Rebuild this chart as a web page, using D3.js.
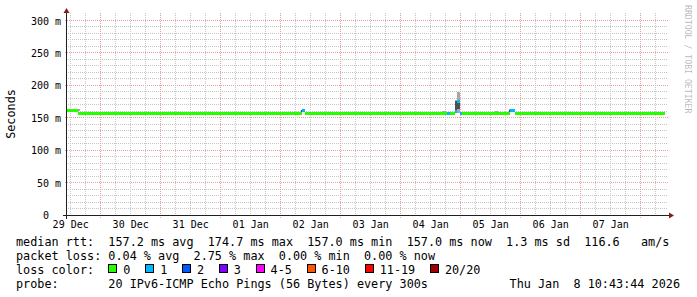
<!DOCTYPE html>
<html><head><meta charset="utf-8">
<script src="https://cdn.jsdelivr.net/npm/d3@7"></script>
<style>
html,body{margin:0;padding:0;background:#fff;}
svg{display:block;}
text{font-family:"DejaVu Sans Mono",monospace;white-space:pre;}
</style></head><body>
<svg id="chart" width="697" height="297"></svg>
<script>
// ---------- data ----------
const rangeStart = "2025-12-29T10:43:44Z";
const rangeEnd   = "2026-01-08T10:43:44Z";
const yMax = 308.5;
const yTicks = [0, 50, 100, 150, 200, 250, 300];
const yTickLabels = ["0\u00a0\u00a0", "50\u00a0m", "100\u00a0m", "150\u00a0m", "200\u00a0m", "250\u00a0m", "300\u00a0m"];
const xTickTimes = ["2025-12-29T12:00Z","2025-12-30T12:00Z","2025-12-31T12:00Z","2026-01-01T12:00Z","2026-01-02T12:00Z",
                    "2026-01-03T12:00Z","2026-01-04T12:00Z","2026-01-05T12:00Z","2026-01-06T12:00Z","2026-01-07T12:00Z"];
const xTickLabels = ["29 Dec","30 Dec","31 Dec","01 Jan","02 Jan","03 Jan","04 Jan","05 Jan","06 Jan","07 Jan"];

// median rtt (ms) step series: value holds from its time until the next time
const medianTimes = ["2025-12-29T10:44Z","2025-12-29T15:15Z","2026-01-02T08:36Z","2026-01-02T09:55Z",
                     "2026-01-04T18:36Z","2026-01-04T20:00Z","2026-01-04T21:50Z","2026-01-04T22:50Z",
                     "2026-01-04T23:55Z","2026-01-05T00:40Z","2026-01-05T19:55Z","2026-01-05T21:55Z",
                     "2026-01-08T09:55Z"];
const medianValues = [160.5, 157.0, 160.8, 157.0, 157.0, 157.0, 160.0, 174.7, 157.0, 157.0, 161.5, 157.0, null];
const medianLoss   = [0, 0, 1, 0, 1, 0, 1, 1, 1, 0, 1, 0, 0];

// smoke (ping spread, ms)
const smokeStart = ["2025-12-29T14:15Z","2026-01-02T08:10Z","2026-01-04T16:50Z","2026-01-04T21:50Z","2026-01-04T22:50Z","2026-01-05T13:50Z","2026-01-05T19:25Z"];
const smokeEnd   = ["2025-12-29T15:45Z","2026-01-02T08:36Z","2026-01-04T18:10Z","2026-01-04T22:50Z","2026-01-05T00:00Z","2026-01-05T15:10Z","2026-01-05T19:55Z"];
const smokeMin   = [160.0, 159.0, 157.0, 157.0, 157.0, 157.0, 158.0];
const smokeMax   = [163.5, 162.0, 160.0, 177.0, 190.0, 160.0, 163.0];
const smokeInLow = [160.0, 159.0, 157.0, 158.0, 163.0, 157.0, 159.0];
const smokeInHigh= [160.0, 162.0, 157.0, 176.5, 176.0, 157.0, 162.0];

const lossLabels = ["0","1","2","3","4-5","6-10","11-19","20/20"];
const lossColors = ["#26ff00","#00b8ff","#0059ff","#7e00ff","#ff00ff","#ff5500","#ff0000","#a00000"];

const rttStats  = ["157.2 ms avg","174.7 ms max","157.0 ms min","157.0 ms now","1.3 ms sd","116.6   am/s"];
const lossStats = ["0.04 % avg","2.75 % max","0.00 % min","0.00 % now"];
const probeText = "20 IPv6-ICMP Echo Pings (56 Bytes) every 300s";
const dateText  = "Thu Jan  8 10:43:44 2026";
const yLabel = "Seconds";
const watermark = "RRDTOOL / TOBI OETIKER";

// ---------- layout ----------
const X0 = 67, X1 = 667, Y0 = 215, Y1 = 15;
const svg = d3.select("#chart");
const x = d3.scaleUtc().domain([new Date(rangeStart), new Date(rangeEnd)]).range([X0, X1]);
const y = d3.scaleLinear().domain([0, yMax]).range([Y0, Y1]);
const px = v => Math.floor(v) + 0.5;

const minorCol = "#c6c6c6", majorCol = "#eaa0a0";
const grid = svg.append("g");
// horizontal grid
grid.selectAll("line.hmin").data(y.ticks(30).filter(v => v % 50 !== 0)).join("line")
  .attr("x1", X0 - 1).attr("x2", X1 + 1).attr("y1", d => px(y(d))).attr("y2", d => px(y(d)))
  .attr("stroke", minorCol).attr("stroke-dasharray", "1,1");
grid.selectAll("line.hmaj").data(yTicks.filter(v => v > 0)).join("line")
  .attr("x1", X0 - 2).attr("x2", X1 + 2).attr("y1", d => px(y(d))).attr("y2", d => px(y(d)))
  .attr("stroke", majorCol).attr("stroke-dasharray", "1,1");
// vertical grid
const t0 = new Date(rangeStart), t1 = new Date(rangeEnd);
grid.selectAll("line.vmin").data(d3.utcHour.every(6).range(t0, t1).filter(d => d.getUTCHours() !== 0)).join("line")
  .attr("x1", d => px(x(d))).attr("x2", d => px(x(d))).attr("y1", Y1 - 2).attr("y2", Y0 + 2)
  .attr("stroke", minorCol).attr("stroke-dasharray", "1,1");
grid.selectAll("line.vmaj").data(d3.utcDay.range(t0, t1)).join("line")
  .attr("x1", d => px(x(d))).attr("x2", d => px(x(d))).attr("y1", Y1 - 2).attr("y2", Y0 + 3)
  .attr("stroke", majorCol).attr("stroke-dasharray", "1,1");

// smoke
const smoke = smokeStart.map((s, i) => ({s: new Date(s), e: new Date(smokeEnd[i]), lo: smokeMin[i], hi: smokeMax[i], il: smokeInLow[i], ih: smokeInHigh[i]}));
const gs = svg.append("g").attr("shape-rendering", "crispEdges");
gs.selectAll("rect.outer").data(smoke).join("rect")
  .attr("x", d => x(d.s)).attr("width", d => x(d.e) - x(d.s))
  .attr("y", d => y(d.hi)).attr("height", d => y(d.lo) - y(d.hi)).attr("fill", "#a8a8a8");
gs.selectAll("rect.inner").data(smoke.filter(d => d.ih > d.il)).join("rect")
  .attr("x", d => x(d.s)).attr("width", d => x(d.e) - x(d.s))
  .attr("y", d => y(d.ih)).attr("height", d => y(d.il) - y(d.ih)).attr("fill", "#505050");

// median band coloured by loss
const lossIdx = l => l <= 3 ? l : l <= 5 ? 4 : l <= 10 ? 5 : l <= 19 ? 6 : 7;
const segs = medianTimes.slice(0, -1).map((t, i) => ({t0: new Date(t), t1: new Date(medianTimes[i + 1]), v: medianValues[i], l: medianLoss[i]}));
svg.append("g").attr("shape-rendering", "crispEdges").selectAll("rect").data(segs).join("rect")
  .attr("x", d => x(d.t0)).attr("width", d => x(d.t1) - x(d.t0))
  .attr("y", d => y(d.v) - 1.5).attr("height", 3)
  .attr("fill", d => lossColors[lossIdx(d.l)]);

// axes lines + arrows
const axisCol = "#1f1f1f", arrowCol = "#801f1f";
svg.append("line").attr("x1", X0 - 4).attr("x2", X1 + 4).attr("y1", Y0 + 0.5).attr("y2", Y0 + 0.5).attr("stroke", axisCol);
svg.append("line").attr("x1", X0 - 0.5).attr("x2", X0 - 0.5).attr("y1", Y0 + 4).attr("y2", Y1 - 4).attr("stroke", axisCol);
svg.append("path").attr("d", `M${X1 + 2},${Y0 - 3 + 0.5}L${X1 + 2},${Y0 + 3 + 0.5}L${X1 + 7},${Y0 + 0.5}Z`).attr("fill", arrowCol);
svg.append("path").attr("d", `M${X0 - 3.5},${Y1 - 2}L${X0 + 2.5},${Y1 - 2}L${X0 - 0.5},${Y1 - 7}Z`).attr("fill", arrowCol);

// tick labels via d3 axes
const yAxis = d3.axisLeft(y).tickValues(yTicks).tickFormat((d, i) => yTickLabels[i]).tickSize(0).tickPadding(6);
const gy = svg.append("g").attr("transform", `translate(${X0},0)`).call(yAxis);
gy.select(".domain").remove();
gy.selectAll("text").attr("font-family", "DejaVu Sans Mono").attr("font-size", 10).attr("fill", "#000").attr("dy", "0.36em");

const xAxis = d3.axisBottom(x).tickValues(xTickTimes.map(d => new Date(d))).tickFormat((d, i) => xTickLabels[i]).tickSize(0).tickPadding(6);
const gx = svg.append("g").attr("transform", `translate(0,${Y0})`).call(xAxis);
gx.select(".domain").remove();
gx.selectAll("text").attr("font-family", "DejaVu Sans Mono").attr("font-size", 10).attr("fill", "#000");

// y label and watermark
svg.append("text").attr("transform", `translate(15,114) rotate(-90)`).attr("text-anchor", "middle")
  .attr("font-size", 11.8).attr("fill", "#000").text(yLabel);
svg.append("text").attr("transform", `translate(685,5) rotate(90)`).attr("text-anchor", "start")
  .attr("font-size", 8.2).attr("fill", "#000").attr("fill-opacity", 0.3).text(watermark);

// legend
const LF = 11.8, LX = 16, base = 245.8, lh = 13.9;
const leg = svg.append("g").attr("font-size", LF).attr("fill", "#000");
leg.append("text").attr("x", LX).attr("y", base).attr("xml:space", "preserve").text("median rtt:  " + rttStats.join("  "));
leg.append("text").attr("x", LX).attr("y", base + lh).attr("xml:space", "preserve").text("packet loss: " + lossStats.join("  "));
leg.append("text").attr("x", LX).attr("y", base + 2 * lh).attr("xml:space", "preserve").text("loss color:");
leg.append("text").attr("x", LX).attr("y", base + 3 * lh).attr("xml:space", "preserve").text("probe:       " + probeText);
leg.append("text").attr("x", 680).attr("y", base + 3 * lh).attr("text-anchor", "end").attr("xml:space", "preserve").text(dateText);

const charW = LF * 0.602;
let tx = LX + 13 * charW + 15;
lossLabels.forEach((lab, i) => {
  leg.append("rect").attr("x", Math.round(tx - 15) + 0.5).attr("y", Math.round(base + 2 * lh - 10) + 0.5)
    .attr("width", 8).attr("height", 8).attr("fill", lossColors[i]).attr("stroke", "#000").attr("stroke-width", 1);
  leg.append("text").attr("x", tx).attr("y", base + 2 * lh).text(lab);
  tx += 29.7 + lab.length * charW;
});
</script>
</body></html>
